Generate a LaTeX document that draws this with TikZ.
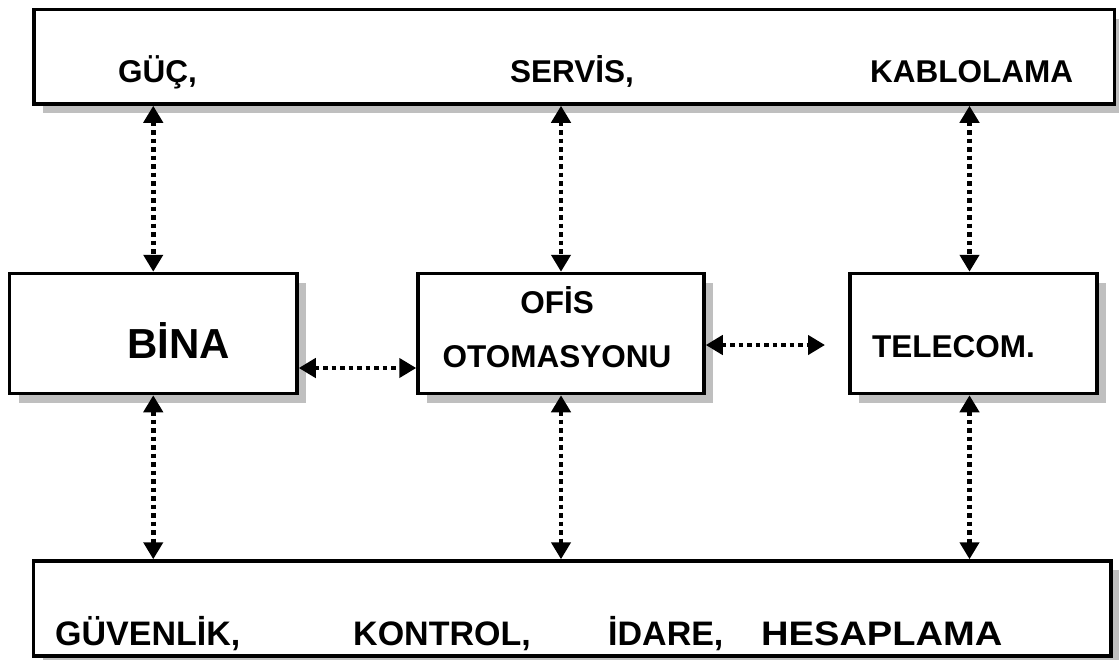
\documentclass[tikz,border=0pt]{standalone}
\usepackage{fontspec}
\setmainfont{Liberation Sans}
\usetikzlibrary{arrows.meta,shadows}

\tikzset{
  box/.style={draw, line width=3.5pt, fill=white, rectangle, inner sep=0pt,
    drop shadow={shadow xshift=9pt, shadow yshift=-9pt, fill=black!25, opacity=1}},
  tip/.tip={Triangle[length=17pt,width=19pt]},
  link/.style={draw, line width=4.5pt, dash pattern=on 4.5pt off 4pt, tip-tip},
  lbl/.style={anchor=base west, inner sep=0pt, font=\bfseries\fontsize{31.5}{38}\selectfont},
  lblbig/.style={lbl, font=\bfseries\fontsize{42}{50}\selectfont},
  lblbot/.style={lbl, font=\bfseries\fontsize{34}{41}\selectfont},
}

\begin{document}
\begin{tikzpicture}[x=1pt, y=-1pt]
  \useasboundingbox (0,0) rectangle (1119,659);

  % frames
  \node[box, minimum width=1080.5pt, minimum height=94.5pt] (top)  at (574.25,56.75) {};
  \node[box, minimum width=287.5pt,  minimum height=120pt]  (bina) at (153.25,333.5) {};
  \node[box, minimum width=286pt,    minimum height=120pt]  (ofis) at (561,333.5) {};
  \node[box, minimum width=247pt,    minimum height=120pt]  (tel)  at (973.5,333.5) {};
  \node[box, minimum width=1077.3pt, minimum height=95pt]   (bot)  at (572.35,608.5) {};

  % labels of the upper frame
  \node[lbl] (guc)    at (118,82.5) {GÜÇ,};
  \node[lbl] (servis) at (510,82.5) {SERVİS,};
  \node[lbl] (kablo)  at (870,82.5) {KABLOLAMA};

  % labels of the three blocks
  \node[lblbig] (binat) at (127,358) {BİNA};
  \node[lbl, anchor=base] (ofis1) at (557,313) {OFİS};
  \node[lbl, anchor=base] (ofis2) at (557,367) {OTOMASYONU};
  \node[lbl] (telt) at (872,357) {TELECOM.};

  % labels of the lower frame
  \node[lblbot] (guv)  at (55,645)  {GÜVENLİK,};
  \node[lblbot] (kon)  at (353,645) {KONTROL,};
  \node[lblbot] (ida)  at (608,645) {İDARE,};
  \node[lblbot] (hes)  at (761,645) {\scalebox{1.12}[1]{HESAPLAMA}};

  % vertical links
  \path[link] (top.south -| bina.north) -- (bina.north);
  \path[link] (top.south -| ofis.north) -- (ofis.north);
  \path[link] ([xshift=-4pt]tel.north |- top.south) -- ([xshift=-4pt]tel.north);
  \path[link] (bina.south) -- (bina.south |- bot.north);
  \path[link] (ofis.south) -- (ofis.south |- bot.north);
  \path[link] ([xshift=-4pt]tel.south) -- ([xshift=-4pt]tel.south |- bot.north);

  % horizontal links
  \path[link] ([yshift=-34.5pt]bina.east) -- ([yshift=-34.5pt]ofis.west);
  \coordinate (telend) at (825,345);
  \path[link] (ofis.east |- telend) -- (telend);
\end{tikzpicture}
\end{document}
